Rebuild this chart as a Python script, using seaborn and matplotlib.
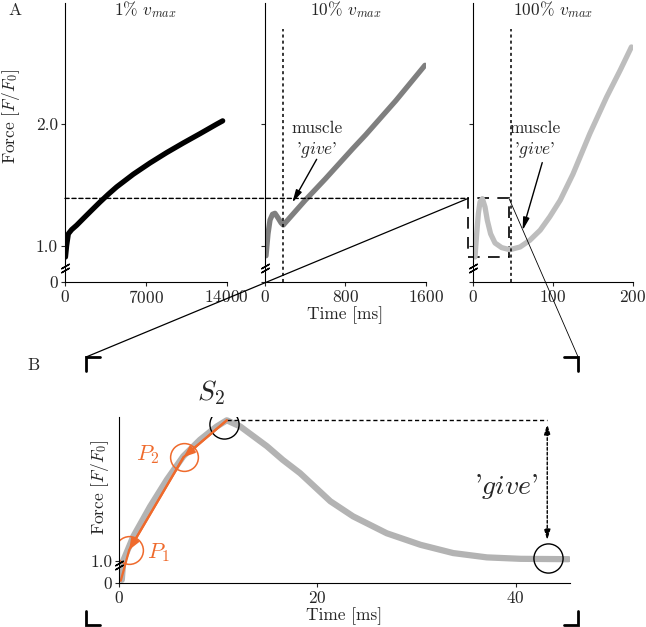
import numpy as np
import matplotlib
matplotlib.use('Agg')
import matplotlib.pyplot as plt
from matplotlib.patches import Rectangle, ConnectionPatch
import seaborn as sns

# panel A: force traces at three stretch velocities
t_1 = [40, 144, 289, 577, 1010, 1587, 2309, 3030, 3752, 4474, 5917, 7360, 8804, 10247,
       11690, 13133, 13653]
f_1 = [0.91, 1.006, 1.10, 1.134, 1.17, 1.225, 1.293, 1.36, 1.424, 1.484, 1.588, 1.68, 1.765,
       1.844, 1.92, 1.998, 2.025]

t_10 = [10, 30, 50, 75, 99, 130, 160, 182, 400, 600, 875, 1000, 1300, 1590]
f_10 = [0.92, 1.10, 1.213, 1.26, 1.268, 1.23, 1.19, 1.172, 1.375, 1.55, 1.80, 1.91, 2.19, 2.48]

t_100 = [2.5, 4.6, 6.7, 8.75, 11.7, 15, 17.9, 22, 27.5, 35.8, 46, 58.8, 71, 84, 96, 109,
         125, 146, 167, 184, 198]
f_100 = [0.91, 1.10, 1.266, 1.36, 1.388, 1.32, 1.21, 1.10, 1.025, 0.987, 0.97, 0.992, 1.047,
         1.13, 1.24, 1.375, 1.59, 1.92, 2.22, 2.44, 2.63]

give_t_10 = 175
give_t_100 = 47
s2_force = 1.39

# panel B: zoom of the 100% trace
t_zoom = [0.25, 0.4, 1.41, 3.1, 4.8, 6.46, 8.15, 9.84, 10.85, 12.2, 14.9, 16.5, 18.25, 21.3,
          23.6, 27.0, 30.4, 33.7, 37.1, 40.5, 45.35]
f_zoom = [0.4, 1.0, 1.067, 1.15, 1.225, 1.29, 1.336, 1.373, 1.39, 1.373, 1.318, 1.28, 1.243,
          1.165, 1.123, 1.076, 1.044, 1.021, 1.009, 1.005, 1.004]

t_p = [0.15, 1.0, 6.5, 10.85]
f_p = [0.3, 1.03, 1.288, 1.39]
p_labels = ['$P_1$', '$P_2$']
s2_point = (10.6, 1.38)
give_point = (43.3, 1.006)

orange = '#ef6a2c'
fs = 12.5

sns.set_style('ticks')
plt.rcParams['font.family'] = ['cmr10', 'DejaVu Serif']
plt.rcParams['mathtext.fontset'] = 'cm'
plt.rcParams['axes.unicode_minus'] = False
plt.rcParams['axes.formatter.use_mathtext'] = True
plt.rcParams['font.size'] = fs


def broken(b, k):
    def fwd(y):
        y = np.asarray(y, float)
        return np.where(y < b, y * k, y - b * (1 - k))

    def inv(z):
        z = np.asarray(z, float)
        return np.where(z < b * k, z / k, z + b * (1 - k))
    return fwd, inv


def style(ax, lw=0.8):
    sns.despine(ax=ax)
    for s in ['left', 'bottom']:
        ax.spines[s].set_linewidth(lw)
        ax.spines[s].set_color('k')
    ax.tick_params(direction='out', length=3, width=0.8, labelsize=fs, pad=2)


def breakmarks(ax, ys):
    ax.plot([0] * len(ys), ys, ls='none', marker=(2, 2, -60), ms=7, mew=1, color='k',
            transform=ax.transAxes, clip_on=False)


fig = plt.figure(figsize=(6.46, 6.27), dpi=100)
ax1 = fig.add_axes([0.1006, 0.5502, 0.2503, 0.445])
ax2 = fig.add_axes([0.4102, 0.5502, 0.2492, 0.445])
ax3 = fig.add_axes([0.7322, 0.5502, 0.2477, 0.445])
axB = fig.add_axes([0.1847, 0.0697, 0.6977, 0.2657])

panels = [(ax1, t_1, f_1, 'k', (0, 14000), [0, 7000, 14000], '1%'),
          (ax2, t_10, f_10, '#7f7f7f', (0, 1600), [0, 800, 1600], '10%'),
          (ax3, t_100, f_100, '#bdbdbd', (0, 200), [0, 100, 200], '100%')]
for ax, t, f, c, xl, xt, title in panels:
    ax.set_yscale('function', functions=broken(0.82, 0.14))
    sns.lineplot(x=t, y=f, ax=ax, color=c, lw=3.8, sort=False)
    ax.set_xlim(*xl)
    ax.set_ylim(0, 2.99)
    ax.set_xticks(xt)
    ax.set_yticks([0, 1, 2])
    if ax is ax1:
        ax.set_yticklabels(['0', '1.0', '2.0'])
    else:
        ax.set_yticklabels([])
    style(ax)
    breakmarks(ax, [0.044, 0.058])
    ax.text(0.5, 0.975, title + r' $v_{max}$', transform=ax.transAxes, ha='center', va='center',
            fontsize=fs)

ax1.set_ylabel(r'Force [$F/F_0$]', fontsize=fs)
ax1.yaxis.set_label_coords(-0.266, 0.595)
ax2.set_xlabel('Time [ms]', fontsize=fs)
ax2.xaxis.set_label_coords(0.5, -0.086)

# muscle give markers
for ax, tg, tx, arr in [(ax2, give_t_10, 517, ((527, 1.73), (258, 1.336))),
                        (ax3, give_t_100, 77.5, ((87.5, 1.705), (61, 1.107)))]:
    ax.axvline(tg, ymin=0, ymax=0.907, color='k', lw=1.1, ls=(0, (2, 2)))
    ax.text(tx, 1.967, 'muscle', ha='center', va='center', fontsize=fs)
    ax.text(tx, 1.787, r"'$\mathit{give}$'", ha='center', va='center', fontsize=fs)
    ax.annotate('', xy=arr[1], xytext=arr[0],
                arrowprops=dict(arrowstyle='-|>,head_length=0.6,head_width=0.15', color='k', lw=1))

# zoom box on 100% panel
box_x0, box_x1, box_y0 = -6, 45, 0.91
ax3.add_patch(Rectangle((box_x0, box_y0), box_x1 - box_x0, s2_force - box_y0, fill=False,
                        ec='k', lw=1.2, ls=(0, (7, 5)), clip_on=False))

fig.add_artist(ConnectionPatch(xyA=(0, s2_force), coordsA=ax1.transData,
                               xyB=(box_x0, s2_force), coordsB=ax3.transData,
                               color='k', lw=1, ls=(0, (3, 2))))
fig.add_artist(ConnectionPatch(xyA=(box_x0, s2_force), coordsA=ax3.transData,
                               xyB=(-0.074, 1.358), coordsB=axB.transAxes, color='k', lw=0.9))
fig.add_artist(ConnectionPatch(xyA=(box_x1, s2_force), coordsA=ax3.transData,
                               xyB=(1.018, 1.358), coordsB=axB.transAxes, color='k', lw=0.6))

# panel B
axB.set_yscale('function', functions=broken(0.96, 0.024))
sns.lineplot(x=t_zoom, y=f_zoom, ax=axB, color='#b3b3b3', lw=4.5, sort=False)
sns.lineplot(x=t_p, y=f_p, ax=axB, color=orange, lw=1.6, sort=False)
for i in [2, 1]:
    axB.annotate('', xy=(t_p[i], f_p[i]), xytext=(t_p[i + 1], f_p[i + 1]),
                 arrowprops=dict(arrowstyle='-|>,head_length=0.5,head_width=0.2', color=orange,
                                 lw=1.6, shrinkA=0, shrinkB=0))
axB.plot(t_p[1:3], f_p[1:3], ls='none', marker='o', ms=20, mfc='none', mec=orange, mew=1.1)
axB.text(3.9, 1.021, p_labels[0], color=orange, fontsize=16, ha='center', va='center')
axB.text(2.9, 1.294, p_labels[1], color=orange, fontsize=16, ha='center', va='center')
axB.plot([s2_point[0], give_point[0]], [s2_point[1], give_point[1]], ls='none', marker='o', ms=21,
         mfc='none', mec='k', mew=1)
axB.text(9.2, 1.467, '$S_2$', fontsize=20, ha='center', va='center', clip_on=False)
axB.plot([10.9, 43.2], [s2_force, s2_force], color='k', lw=1, ls=(0, (3, 2)))
axB.annotate('', xy=(43.2, 1.38), xytext=(43.2, 1.057),
             arrowprops=dict(arrowstyle='<|-|>,head_length=0.5,head_width=0.15', color='k', lw=1,
                             ls=(0, (2, 1.5)), shrinkA=0, shrinkB=0))
axB.text(39.1, 1.205, r"'$\mathit{give}$'", fontsize=20, ha='center', va='center')

axB.set_xlim(0, 45.5)
axB.set_ylim(0, 1.40)
axB.set_xticks([0, 20, 40])
axB.set_yticks([0, 1])
axB.set_yticklabels(['0', '1.0'])
style(axB)
breakmarks(axB, [0.097, 0.12])
axB.set_ylabel(r'Force [$F/F_0$]', fontsize=fs)
axB.yaxis.set_label_coords(-0.0195, 0.575)
axB.set_xlabel('Time [ms]', fontsize=fs)
axB.xaxis.set_label_coords(0.4986, -0.142)

# corner brackets of the zoomed region
ax_w, ax_h = 0.031, 0.084
for cx, cy, sx, sy in [(-0.074, 1.358, 1, -1), (1.018, 1.358, -1, -1),
                       (-0.074, -0.25, 1, 1), (1.018, -0.25, -1, 1)]:
    axB.plot([cx + sx * ax_w, cx, cx], [cy, cy, cy + sy * ax_h], color='k', lw=2,
             transform=axB.transAxes, clip_on=False, solid_joinstyle='miter')

fig.text(8 / 646, 1 - 10 / 627, 'A', fontsize=fs, ha='left', va='center')
fig.text(27 / 646, 1 - 365 / 627, 'B', fontsize=fs, ha='left', va='center')

fig.savefig('out.png', dpi=100)
